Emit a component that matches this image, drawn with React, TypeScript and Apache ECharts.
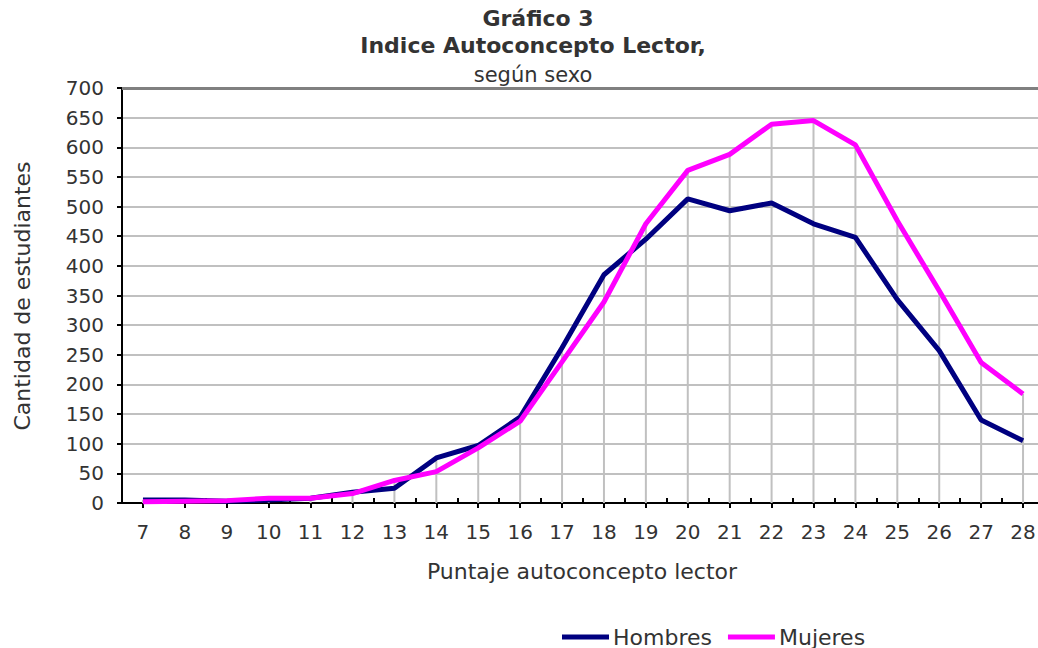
import React, { useEffect, useRef } from "react";
import * as echarts from "echarts";

const categories = ["7","8","9","10","11","12","13","14","15","16","17","18","19","20","21","22","23","24","25","26","27","28"];
const hombres = [5, 5, 3, 5, 8, 18, 25, 76, 97, 145, 262, 385, 445, 513, 493, 506, 471, 448, 343, 257, 140, 105];
const mujeres = [2, 3, 4, 8, 8, 16, 38, 53, 93, 138, 238, 339, 471, 561, 588, 639, 645, 604, 476, 358, 237, 184];
const yTicks = { min: 0, max: 700, interval: 50 };

const titleLines = ["Gráfico 3", "Indice Autoconcepto Lector,", "según sexo"];
const yName = "Cantidad de estudiantes";
const xName = "Puntaje autoconcepto lector";

const FONT = "DejaVu Sans";
const TXT = "#333333";

export default function App() {
  const ref = useRef<HTMLDivElement>(null);
  useEffect(() => {
    document.body.style.margin = "0";
    const chart = echarts.init(ref.current!, null, { renderer: "svg" });
    const drop = hombres.map((h, i) => Math.max(h, mujeres[i]));
    chart.setOption({
      animation: false,
      backgroundColor: "#ffffff",
      textStyle: { fontFamily: FONT },
      grid: { left: 122, top: 88, width: 922, height: 415, containLabel: false, outerBoundsMode: "none" },
      graphic: [
        { type: "text", x: 538, y: 18, style: { text: titleLines[0], font: `bold 22px '${FONT}'`, fill: TXT, textAlign: "center", textVerticalAlign: "middle" } },
        { type: "text", x: 533, y: 45, style: { text: titleLines[1], font: `bold 22px '${FONT}'`, fill: TXT, textAlign: "center", textVerticalAlign: "middle" } },
        { type: "text", x: 533, y: 75, style: { text: titleLines[2], font: `21px '${FONT}'`, fill: TXT, textAlign: "center", textVerticalAlign: "middle" } },
        { type: "text", x: 22, y: 296, rotation: Math.PI / 2, style: { text: yName, font: `22px '${FONT}'`, fill: TXT, textAlign: "center", textVerticalAlign: "middle" } },
        { type: "text", x: 582, y: 571, style: { text: xName, font: `22px '${FONT}'`, fill: TXT, textAlign: "center", textVerticalAlign: "middle" } },
      ],
      legend: {
        left: 557,
        top: 621,
        itemWidth: 47,
        itemHeight: 5,
        itemGap: 16,
        icon: "rect",
        textStyle: { fontFamily: FONT, fontSize: 22, color: TXT, padding: [0, 0, 0, -1] },
        data: ["Hombres", "Mujeres"],
      },
      xAxis: [
        {
          type: "category",
          data: categories,
          boundaryGap: true,
          axisLine: { show: true, lineStyle: { color: "#000", width: 2 } },
          axisTick: { show: true, alignWithLabel: true, inside: false, length: 5, lineStyle: { color: "#000", width: 2 } },
          axisLabel: { margin: 19, fontSize: 20, color: TXT, fontFamily: FONT, interval: 0 },
          splitLine: { show: false },
        },
        {
          type: "category",
          data: categories,
          position: "bottom",
          boundaryGap: true,
          axisLine: { show: false },
          axisTick: { show: true, alignWithLabel: false, inside: true, length: 5, interval: 0, lineStyle: { color: "#000", width: 2 } },
          axisLabel: { show: false },
          splitLine: { show: false },
        },
      ],
      yAxis: {
        type: "value",
        min: yTicks.min,
        max: yTicks.max,
        interval: yTicks.interval,
        axisLine: { show: true, lineStyle: { color: "#000", width: 2 } },
        axisTick: { show: true, length: 5, lineStyle: { color: "#000", width: 2 } },
        axisLabel: { margin: 18, fontSize: 20, color: TXT, fontFamily: FONT },
        splitLine: { show: true, lineStyle: { color: "#c0c0c0", width: 2 } },
      },
      series: [
        {
          name: "drop",
          type: "bar",
          data: drop,
          barWidth: 2,
          itemStyle: { color: "#c0c0c0" },
          silent: true,
          z: 1,
          markLine: {
            silent: true,
            symbol: "none",
            label: { show: false },
            lineStyle: { color: "#808080", width: 3, type: "solid" },
            data: [{ yAxis: yTicks.max }],
          },
        },
        {
          name: "Hombres",
          type: "line",
          data: hombres,
          symbol: "none",
          lineStyle: { color: "#000080", width: 5 },
          itemStyle: { color: "#000080" },
          z: 3,
        },
        {
          name: "Mujeres",
          type: "line",
          data: mujeres,
          symbol: "none",
          lineStyle: { color: "#ff00ff", width: 5 },
          itemStyle: { color: "#ff00ff" },
          z: 4,
        },
      ],
    });
    return () => chart.dispose();
  }, []);
  return <div ref={ref} style={{ width: 1038, height: 648 }} />;
}
